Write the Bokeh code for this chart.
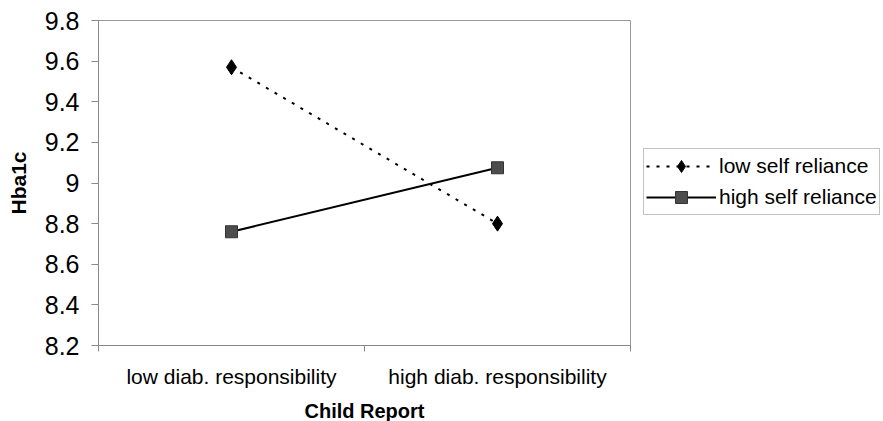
from bokeh.plotting import figure
from bokeh.models import FixedTicker, Legend, LegendItem, Range1d
from bokeh.embed import file_html
from bokeh.resources import INLINE

categories = ["low diab. responsibility", "high diab. responsibility"]
low_self_reliance = [9.57, 8.80]
high_self_reliance = [8.76, 9.075]
y_ticks = [8.2, 8.4, 8.6, 8.8, 9.0, 9.2, 9.4, 9.6, 9.8]

xs = [i + 0.5 for i in range(len(categories))]

p = figure(width=883, height=421, output_backend="svg", toolbar_location=None,
           x_range=Range1d(0, len(categories)), y_range=Range1d(8.2, 9.8),
           frame_width=532, frame_height=325,
           min_border_left=98, min_border_right=253, min_border_top=20, min_border_bottom=76)

FONT = "Liberation Sans"

l1 = p.line(xs, low_self_reliance, line_color="black", line_width=2, line_dash="3 7")
s1 = p.scatter(xs, low_self_reliance, marker="diamond", size=15,
               fill_color="black", line_color="black")
l2 = p.line(xs, high_self_reliance, line_color="black", line_width=2)
s2 = p.scatter(xs, high_self_reliance, marker="square", size=12, fill_color="#4d4d4d", line_color="#333333")

p.xgrid.visible = False
p.ygrid.visible = False
p.outline_line_color = "#999999"
p.outline_line_width = 1
p.background_fill_color = "white"
p.border_fill_color = "white"

# x axis
p.xaxis.ticker = FixedTicker(ticks=xs, minor_ticks=list(range(len(categories) + 1)))
p.xaxis.major_label_overrides = {x: c for x, c in zip(xs, categories)}
p.xaxis.major_tick_out = 0
p.xaxis.major_tick_in = 0
p.xaxis.minor_tick_out = 6
p.xaxis.minor_tick_in = 0
p.xaxis.minor_tick_line_color = "#888888"
p.xaxis.axis_line_color = "#888888"
p.xaxis.major_label_text_font = FONT
p.xaxis.major_label_text_font_size = "21px"
p.xaxis.major_label_text_color = "black"
p.xaxis.major_label_standoff = 13
p.xaxis.axis_label = "Child Report"
p.xaxis.axis_label_text_font = FONT
p.xaxis.axis_label_text_font_style = "bold"
p.xaxis.axis_label_text_font_size = "20px"
p.xaxis.axis_label_text_color = "black"
p.xaxis.axis_label_standoff = 9

# y axis
p.yaxis.ticker = FixedTicker(ticks=y_ticks, minor_ticks=[])
p.yaxis.major_label_overrides = {t: (f"{t:.1f}".rstrip("0").rstrip(".")) for t in y_ticks}
p.yaxis.major_tick_out = 7
p.yaxis.major_tick_in = 0
p.yaxis.major_tick_line_color = "#888888"
p.yaxis.axis_line_color = "#888888"
p.yaxis.major_label_text_font = FONT
p.yaxis.major_label_text_font_size = "25px"
p.yaxis.major_label_text_color = "black"
p.yaxis.major_label_standoff = 12
p.yaxis.axis_label = "Hba1c"
p.yaxis.axis_label_text_font = FONT
p.yaxis.axis_label_text_font_style = "bold"
p.yaxis.axis_label_text_font_size = "21px"
p.yaxis.axis_label_text_color = "black"
p.yaxis.axis_label_standoff = 12

legend = Legend(items=[
    LegendItem(label="low self reliance", renderers=[l1, s1]),
    LegendItem(label="high self reliance", renderers=[l2, s2]),
], location=(13, 130))
legend.label_text_font = FONT
legend.label_text_font_size = "21px"
legend.label_text_color = "black"
legend.glyph_width = 70
legend.glyph_height = 30
legend.label_standoff = 3
legend.spacing = 1
legend.padding = 2
legend.margin = 0
legend.border_line_color = "#888888"
legend.border_line_width = 1
legend.background_fill_alpha = 1
p.add_layout(legend, "right")

open("out.html", "w").write(file_html(p, INLINE))
